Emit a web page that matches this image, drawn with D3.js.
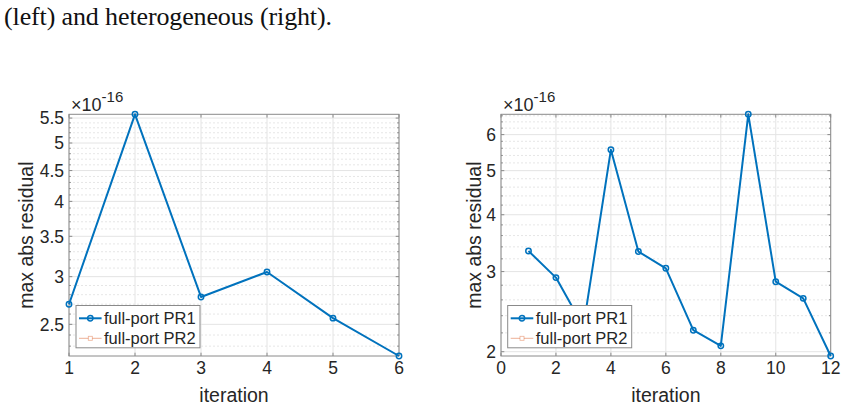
<!DOCTYPE html>
<html>
<head>
<meta charset="utf-8">
<script src="https://cdn.jsdelivr.net/npm/d3@7"></script>
<style>
	body { margin: 0; background: #fff; }
	svg { display: block; }
	text { font-family: "Liberation Sans", Arial, sans-serif; fill: #262626; }
</style>
</head>
<body>
<svg id="fig" width="846" height="409"></svg>
<script>

var caption = "(left) and heterogeneous (right).";
var seriesNames = ["full-port PR1", "full-port PR2"];
var yLabel = "max abs residual",
	xLabel = "iteration",
	exponent = "-16";

// left panel (values in units of 1e-16)
var leftIter = [1, 2, 3, 4, 5, 6];
var leftPR1 = [2.70, 5.58, 2.776, 3.054, 2.56, 2.215];
var leftXTicks = [1, 2, 3, 4, 5, 6];
var leftYTicks = [2.5, 3, 3.5, 4, 4.5, 5, 5.5];
var leftMinorStep = 0.1;

// right panel
var rightIter = [1, 2, 3, 4, 5, 6, 7, 8, 9, 10, 11, 12];
var rightPR1 = [3.33, 2.91, 2.27, 5.56, 3.32, 3.05, 2.23, 2.06, 6.65, 2.85, 2.62, 1.957];
var rightXTicks = [0, 2, 4, 6, 8, 10, 12];
var rightYTicks = [2, 3, 4, 5, 6];
var rightMinorStep = 0.2;

var blue = "#0072BD",
	orange = "#D95319",
	boxColor = "#8a8a8a";

var svg = d3.select("#fig");

svg.append("text")
	.attr("x", 4)
	.attr("y", 25)
	.attr("textLength", 328)
	.style("font-family", "'Liberation Serif', 'DejaVu Serif', serif")
	.style("font-size", "26px")
	.style("fill", "#111")
	.text(caption);

drawPanel({
	left: 69, right: 399, top: 114.3, bottom: 356,
	xDomain: [1, 6], iter: leftIter, values: leftPR1,
	xTicks: leftXTicks, yTicks: leftYTicks, minorStep: leftMinorStep,
	yLabelX: 33, legendX: 76
});

drawPanel({
	left: 501, right: 830.7, top: 114.3, bottom: 356,
	xDomain: [0, 12], iter: rightIter, values: rightPR1,
	xTicks: rightXTicks, yTicks: rightYTicks, minorStep: rightMinorStep,
	yLabelX: 480.7, legendX: 507.7
});

function drawPanel(p) {
	var g = svg.append("g");

	var x = d3.scaleLinear()
		.domain(p.xDomain)
		.range([p.left, p.right]);

	var y = d3.scaleLog()
		.domain(d3.extent(p.values))
		.range([p.bottom, p.top]);

	var yd = y.domain();
	var minor = d3.range(Math.ceil(yd[0] / p.minorStep) * p.minorStep, yd[1], p.minorStep)
		.map(function(v) { return Math.round(v * 1000) / 1000; })
		.filter(function(v) { return p.yTicks.indexOf(v) < 0 && v >= yd[0] && v <= yd[1]; });

	// minor grid
	g.selectAll(".minor")
		.data(minor)
		.enter().append("line")
		.attr("x1", p.left).attr("x2", p.right)
		.attr("y1", function(d) { return y(d); })
		.attr("y2", function(d) { return y(d); })
		.attr("stroke", "#e0e0e0")
		.attr("stroke-width", 0.8)
		.attr("stroke-dasharray", "2,2");

	// major grid
	g.selectAll(".ygrid")
		.data(p.yTicks)
		.enter().append("line")
		.attr("x1", p.left).attr("x2", p.right)
		.attr("y1", function(d) { return y(d); })
		.attr("y2", function(d) { return y(d); })
		.attr("stroke", "#e4e4e4")
		.attr("stroke-width", 1);

	g.selectAll(".xgrid")
		.data(p.xTicks)
		.enter().append("line")
		.attr("y1", p.top).attr("y2", p.bottom)
		.attr("x1", function(d) { return x(d); })
		.attr("x2", function(d) { return x(d); })
		.attr("stroke", "#e4e4e4")
		.attr("stroke-width", 1);

	// box
	g.append("rect")
		.attr("x", p.left).attr("y", p.top)
		.attr("width", p.right - p.left)
		.attr("height", p.bottom - p.top)
		.attr("fill", "none")
		.attr("stroke", boxColor)
		.attr("stroke-width", 1);

	// inward ticks
	var tk = 3.3, mtk = 1.8;
	var tickPath = "";
	p.xTicks.forEach(function(d) {
		var xx = x(d);
		tickPath += "M" + xx + "," + p.bottom + "v" + (-tk) + "M" + xx + "," + p.top + "v" + tk;
	});
	p.yTicks.forEach(function(d) {
		var yy = y(d);
		tickPath += "M" + p.left + "," + yy + "h" + tk + "M" + p.right + "," + yy + "h" + (-tk);
	});
	minor.forEach(function(d) {
		var yy = y(d);
		tickPath += "M" + p.left + "," + yy + "h" + mtk + "M" + p.right + "," + yy + "h" + (-mtk);
	});
	g.append("path")
		.attr("d", tickPath)
		.attr("stroke", boxColor)
		.attr("stroke-width", 1)
		.attr("fill", "none");

	// tick labels
	g.selectAll(".xlab")
		.data(p.xTicks)
		.enter().append("text")
		.attr("x", function(d) { return x(d); })
		.attr("y", 373.5)
		.attr("text-anchor", "middle")
		.style("font-size", "17.5px")
		.text(function(d) { return d; });

	g.selectAll(".ylab")
		.data(p.yTicks)
		.enter().append("text")
		.attr("x", p.left - 5)
		.attr("y", function(d) { return y(d) + 6.2; })
		.attr("text-anchor", "end")
		.style("font-size", "17.5px")
		.text(function(d) { return d; });

	// exponent
	var ex = g.append("text")
		.attr("x", p.left + 2)
		.attr("y", 110.7)
		.style("font-size", "18px");
	ex.append("tspan").text("\u00d710");
	ex.append("tspan")
		.attr("dy", -8.5)
		.style("font-size", "15px")
		.text(exponent);

	// axis labels
	g.append("text")
		.attr("x", (p.left + p.right) / 2)
		.attr("y", 402)
		.attr("text-anchor", "middle")
		.style("font-size", "19.5px")
		.text(xLabel);

	g.append("text")
		.attr("transform", "translate(" + p.yLabelX + "," + ((p.top + p.bottom) / 2) + ") rotate(-90)")
		.attr("text-anchor", "middle")
		.style("font-size", "19.5px")
		.text(yLabel);

	// data
	var pts = p.iter.map(function(d, i) { return [d, p.values[i]]; });
	var line = d3.line()
		.x(function(d) { return x(d[0]); })
		.y(function(d) { return y(d[1]); });

	g.append("path")
		.datum(pts)
		.attr("d", line)
		.attr("fill", "none")
		.attr("stroke", blue)
		.attr("stroke-width", 2)
		.attr("stroke-linejoin", "round");

	g.selectAll(".mk")
		.data(pts)
		.enter().append("circle")
		.attr("cx", function(d) { return x(d[0]); })
		.attr("cy", function(d) { return y(d[1]); })
		.attr("r", 2.7)
		.attr("fill", "none")
		.attr("stroke", blue)
		.attr("stroke-width", 1.5);

	// legend
	var lg = g.append("g").attr("transform", "translate(" + p.legendX + ",305.5)");
	lg.append("rect")
		.attr("width", 124)
		.attr("height", 42.3)
		.attr("fill", "#fff")
		.attr("stroke", boxColor)
		.attr("stroke-width", 1);

	var rows = lg.selectAll(".row")
		.data(seriesNames)
		.enter().append("g")
		.attr("transform", function(d, i) { return "translate(0," + (12.8 + i * 20) + ")"; });

	rows.append("line")
		.attr("x1", 3).attr("x2", 25.6)
		.attr("stroke", function(d, i) { return i == 0 ? blue : orange; })
		.attr("stroke-opacity", function(d, i) { return i == 0 ? 1 : 0.45; })
		.attr("stroke-width", function(d, i) { return i == 0 ? 2 : 1; });

	rows.each(function(d, i) {
		var r = d3.select(this);
		if (i == 0) {
			r.append("circle").attr("cx", 14.3).attr("r", 2.7)
				.attr("fill", "none").attr("stroke", blue).attr("stroke-width", 1.5);
		} else {
			r.append("rect").attr("x", 12.3).attr("y", -2).attr("width", 4).attr("height", 4)
				.attr("fill", "#fff").attr("stroke", orange).attr("stroke-opacity", 0.45).attr("stroke-width", 0.8);
		}
	});

	rows.append("text")
		.attr("x", 28)
		.attr("y", 5.8)
		.style("font-size", "16.5px")
		.text(function(d) { return d; });
}
</script>
</body>
</html>
